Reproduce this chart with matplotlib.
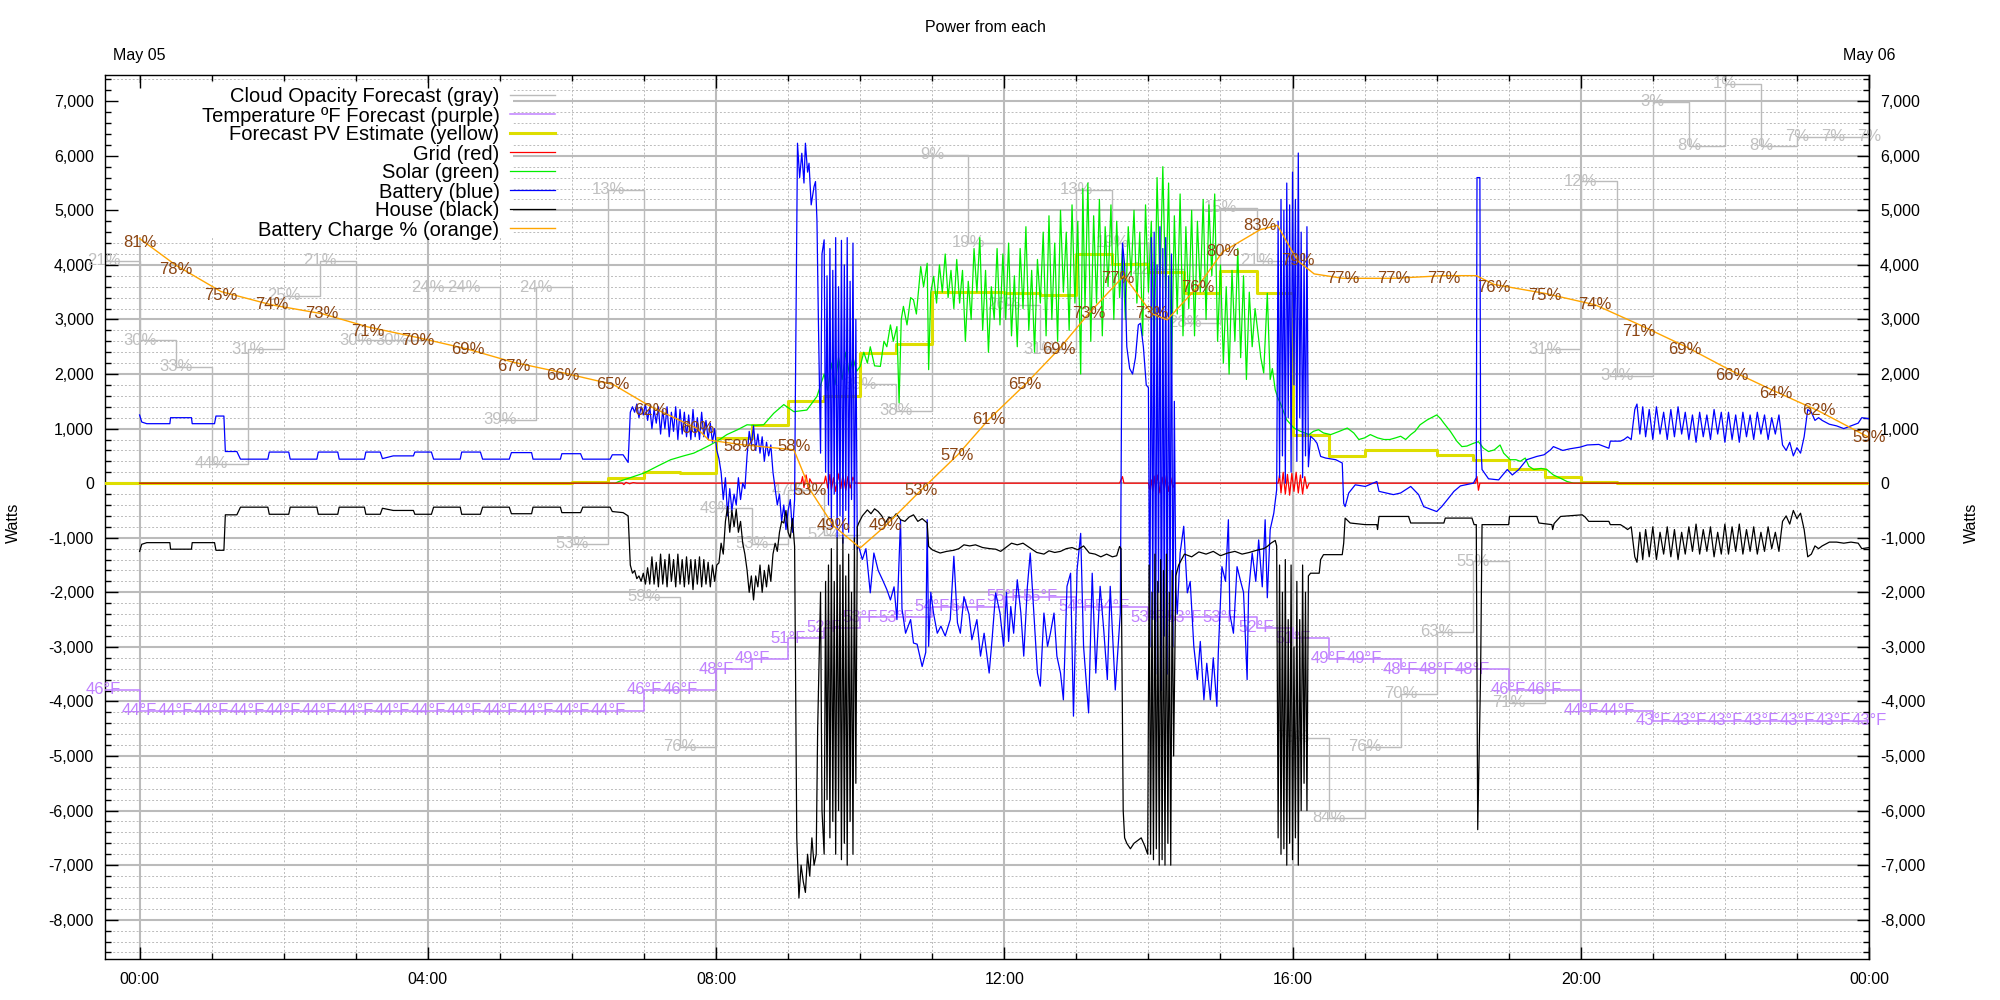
import matplotlib
matplotlib.use("Agg")
import matplotlib.pyplot as plt
from matplotlib.lines import Line2D
from matplotlib.patches import Rectangle
from matplotlib.ticker import FuncFormatter, MultipleLocator

# --- data (hours since May 05 00:00, watts / percent / degF) ---

half_hours = [-0.5 + 0.5 * i for i in range(50)]

cloud_pct = [21, 30, 33, 44, 31, 25, 21, 30, 30, 24,
             24, 39, 24, 53, 13, 59, 76, 49, 53, 47,
             52, 35, 38, 9, 19, 26, 31, 13, 19, 22,
             28, 15, 21, 75, 84, 76, 70, 63, 55, 71,
             31, 12, 34, 3, 8, 1, 8, 7, 7, 7]

temp_f = [46] + [44] * 14 + [46, 46, 48, 49, 51, 52, 53, 53, 54, 54,
                             55, 55, 54, 54, 53, 53, 53, 52, 51, 49,
                             49, 48, 48, 48, 46, 46, 44, 44] + [43] * 7

pv_forecast = [(-0.5, 0), (6.0, 20), (6.5, 100), (7.0, 196), (7.5, 180), (8.0, 830),
               (8.5, 1070), (9.0, 1507), (9.5, 1600), (10.0, 2385), (10.5, 2550),
               (11.0, 3512), (11.5, 3512), (12.0, 3490), (12.5, 3440), (13.0, 4200),
               (13.5, 4013), (14.0, 3867), (14.5, 3494), (15.0, 3890), (15.5, 3494),
               (16.0, 888), (16.5, 502), (17.0, 600), (17.5, 600), (18.0, 520),
               (18.5, 430), (19.0, 264), (19.5, 105), (20.0, 21), (20.5, 0), (24.0, 0)]

grid = [(0.0, 0), (6.7, 0), (6.72, -25), (6.75, 15), (6.8, -10), (6.85, 10), (6.9, 0),
        (9.18, 0), (9.2, 120), (9.22, -80), (9.25, 150), (9.28, -100), (9.3, 80), (9.33, 0),
        (9.5, 0), (9.52, 130), (9.55, -90), (9.58, 160), (9.6, -120), (9.63, 100),
        (9.66, -150), (9.7, 170), (9.73, -100), (9.76, 140), (9.8, -130), (9.83, 120),
        (9.86, -90), (9.9, 110), (9.93, 0), (13.6, 0), (13.64, 120), (13.66, 0),
        (14.0, 0), (14.02, -120), (14.04, 60), (14.06, -150), (14.08, 130), (14.1, -100),
        (14.13, 150), (14.16, -180), (14.19, 110), (14.22, -120), (14.25, 140),
        (14.28, -150), (14.31, 100), (14.34, -80), (14.37, 0), (15.8, 0), (15.82, 150),
        (15.84, -180), (15.87, 200), (15.9, -200), (15.93, 160), (15.96, -220),
        (15.99, 180), (16.02, -150), (16.05, 200), (16.08, -180), (16.11, 150),
        (16.14, -200), (16.17, 120), (16.2, -100), (16.23, 0), (18.54, 0), (18.56, 120),
        (18.58, -130), (18.6, 0), (24.0, 0)]

solar = [(0.0, 0), (6.6, 0), (6.65, 30), (7.0, 185), (7.2, 320), (7.37, 430), (7.55, 500),
         (7.69, 550), (7.8, 620), (7.92, 700), (8.05, 800), (8.15, 890), (8.3, 980),
         (8.43, 1070), (8.55, 1060), (8.66, 1070), (8.8, 1280), (8.94, 1440), (9.08, 1310),
         (9.26, 1340), (9.4, 1590), (9.5, 2000), (9.55, 1700), (9.6, 2200), (9.65, 1800),
         (9.7, 2300), (9.75, 1900), (9.8, 2400), (9.85, 2000), (9.9, 2300), (9.95, 2050),
         (10.0, 2140), (10.05, 2400), (10.1, 2200), (10.14, 2500), (10.2, 2150),
         (10.28, 2140), (10.33, 2600), (10.37, 2500), (10.42, 2900), (10.46, 2600),
         (10.51, 2870), (10.54, 1470), (10.57, 3000), (10.6, 3240), (10.65, 2900),
         (10.7, 3400), (10.74, 3360), (10.78, 3100), (10.84, 3970), (10.88, 3600),
         (10.93, 4030), (10.95, 2080), (10.98, 3500), (11.02, 3790), (11.06, 3300),
         (11.1, 4000), (11.14, 3500), (11.18, 4200), (11.22, 3400), (11.26, 3900),
         (11.3, 3200), (11.34, 4100), (11.38, 3300), (11.42, 3900), (11.46, 2600),
         (11.5, 3700), (11.54, 3000), (11.58, 4300), (11.62, 3500), (11.66, 4500),
         (11.7, 2800), (11.74, 3900), (11.78, 2400), (11.82, 3600), (11.86, 3000),
         (11.9, 4300), (11.94, 2900), (11.98, 4200), (12.02, 3000), (12.06, 4400),
         (12.1, 2700), (12.14, 3800), (12.18, 2500), (12.22, 4300), (12.26, 3200),
         (12.3, 4700), (12.34, 2800), (12.38, 3900), (12.42, 2400), (12.46, 4100),
         (12.5, 3300), (12.54, 4600), (12.58, 2700), (12.62, 4900), (12.66, 3000),
         (12.7, 4400), (12.74, 2600), (12.78, 5000), (12.82, 3500), (12.86, 4600),
         (12.9, 2800), (12.94, 5100), (12.98, 3300), (13.02, 4800), (13.06, 2000),
         (13.09, 5400), (13.12, 3200), (13.16, 5500), (13.2, 2600), (13.24, 4900),
         (13.28, 3300), (13.32, 5200), (13.36, 2700), (13.4, 4700), (13.44, 3600),
         (13.48, 5100), (13.52, 3000), (13.56, 4800), (13.6, 3400), (13.64, 4300),
         (13.68, 3000), (13.72, 4700), (13.76, 3800), (13.8, 5000), (13.84, 3300),
         (13.88, 4600), (13.92, 2700), (13.96, 5100), (14.0, 3500), (14.04, 4800),
         (14.08, 2400), (14.12, 5600), (14.16, 3600), (14.2, 5800), (14.24, 3400),
         (14.28, 5500), (14.32, 2000), (14.36, 4900), (14.4, 3100), (14.44, 5300),
         (14.48, 2700), (14.52, 4700), (14.56, 3200), (14.6, 5000), (14.64, 2700),
         (14.68, 4800), (14.72, 3500), (14.76, 5200), (14.8, 3000), (14.84, 5100),
         (14.88, 3800), (14.92, 5300), (14.96, 2600), (15.0, 4000), (15.04, 2200),
         (15.08, 3600), (15.12, 2000), (15.16, 3900), (15.2, 2600), (15.24, 4300),
         (15.28, 2300), (15.32, 3800), (15.36, 1900), (15.4, 3500), (15.44, 2500),
         (15.48, 3200), (15.51, 2870), (15.56, 2300), (15.6, 2020), (15.65, 3480),
         (15.69, 1900), (15.72, 2100), (15.76, 1710), (15.8, 1550), (15.83, 1470),
         (15.92, 1160), (16.02, 1010), (16.11, 950), (16.23, 890), (16.29, 950),
         (16.36, 980), (16.43, 920), (16.53, 890), (16.65, 950), (16.76, 1010),
         (16.85, 920), (16.92, 800), (17.0, 830), (17.08, 890), (17.18, 830),
         (17.27, 800), (17.35, 800), (17.43, 830), (17.5, 860), (17.57, 800),
         (17.64, 890), (17.7, 950), (17.77, 1070), (17.87, 1160), (18.0, 1250),
         (18.05, 1190), (18.1, 1100), (18.19, 950), (18.28, 770), (18.35, 670),
         (18.42, 680), (18.51, 730), (18.58, 760), (18.65, 640), (18.72, 580),
         (18.8, 610), (18.88, 700), (18.93, 550), (19.02, 430), (19.1, 430),
         (19.16, 400), (19.23, 460), (19.28, 310), (19.35, 250), (19.45, 270),
         (19.53, 250), (19.62, 150), (19.72, 90), (19.81, 30), (19.9, 0), (24.0, 0)]

battery = [(0.0, 1250), (0.03, 1120), (0.1, 1090), (0.42, 1090), (0.43, 1200), (0.72, 1200),
           (0.73, 1090), (1.04, 1090), (1.06, 1230), (1.17, 1230), (1.19, 580), (1.35, 580),
           (1.4, 440), (1.78, 440), (1.8, 570), (2.07, 570), (2.09, 440), (2.46, 440),
           (2.48, 570), (2.75, 570), (2.77, 440), (3.12, 440), (3.14, 570), (3.34, 570),
           (3.37, 450), (3.52, 500), (3.8, 500), (3.82, 570), (4.05, 570), (4.08, 440),
           (4.45, 440), (4.47, 570), (4.73, 570), (4.76, 440), (5.13, 440), (5.16, 560),
           (5.44, 560), (5.46, 440), (5.84, 440), (5.86, 540), (6.12, 540), (6.15, 440),
           (6.53, 440), (6.56, 520), (6.71, 520), (6.78, 380),
           (6.81, 1300), (6.84, 1400), (6.87, 1300), (6.9, 1450), (6.93, 1200), (6.96, 1400),
           (6.99, 1250), (7.02, 1450), (7.05, 1150), (7.08, 1400), (7.11, 1000), (7.14, 1350),
           (7.17, 1100), (7.2, 1400), (7.23, 900), (7.26, 1350), (7.29, 1000), (7.32, 1400),
           (7.35, 850), (7.38, 1300), (7.41, 950), (7.44, 1400), (7.47, 800), (7.5, 1350),
           (7.53, 900), (7.56, 1300), (7.59, 850), (7.62, 1250), (7.65, 800), (7.68, 1350),
           (7.71, 850), (7.74, 1200), (7.77, 800), (7.8, 1300), (7.83, 850), (7.86, 1150),
           (7.89, 800), (7.92, 1100), (7.95, 750), (7.98, 1000), (8.01, 600),
           (8.04, 450), (8.07, 200), (8.1, -300), (8.13, 100), (8.16, -600), (8.19, -100),
           (8.22, -500), (8.25, -200), (8.28, -400), (8.31, 100), (8.34, -300), (8.37, 0),
           (8.4, -100), (8.43, 500), (8.46, 950), (8.49, 700), (8.52, 1050), (8.55, 600),
           (8.58, 900), (8.61, 550), (8.64, 850), (8.67, 400), (8.7, 750), (8.73, 500),
           (8.76, 700), (8.79, 200), (8.82, -100), (8.85, -400), (8.88, -200), (8.91, -700),
           (8.94, -400), (8.97, -850), (9.0, -500), (9.03, -300), (9.06, -900), (9.09, -300),
           (9.1, 1500), (9.13, 6230), (9.16, 5600), (9.19, 6046), (9.22, 5500), (9.24, 6230),
           (9.27, 5700), (9.29, 5863), (9.32, 5100), (9.36, 5436), (9.38, 5527), (9.4, 4825),
           (9.42, 2990), (9.45, 550), (9.47, 4200), (9.5, 4460), (9.52, 200), (9.54, 3800),
           (9.56, -400), (9.58, 4300), (9.6, -800), (9.62, 3900), (9.64, -200), (9.66, 4500),
           (9.68, -1000), (9.7, 3600), (9.72, -600), (9.74, 4450), (9.76, -1100), (9.78, 4000),
           (9.8, -500), (9.82, 4500), (9.84, -900), (9.86, 3700), (9.88, -300), (9.9, 4400),
           (9.92, -1200), (9.94, 3000), (9.96, -1200),
           (9.98, -1160), (10.03, -1400), (10.08, -1200), (10.14, -2010), (10.19, -1280),
           (10.25, -1600), (10.31, -1770), (10.37, -1950), (10.42, -2140), (10.47, -1900),
           (10.51, -2500), (10.56, -670), (10.58, -2300), (10.63, -2750), (10.7, -2500),
           (10.74, -2930), (10.79, -2950), (10.86, -3360), (10.91, -3100), (10.93, -670),
           (10.95, -2990), (10.98, -2000), (11.02, -2400), (11.07, -2750), (11.12, -2620),
           (11.18, -2800), (11.25, -2500), (11.3, -1340), (11.35, -2560), (11.39, -2750),
           (11.44, -2080), (11.51, -2400), (11.55, -2870), (11.62, -2500), (11.67, -3170),
           (11.72, -2750), (11.79, -3480), (11.83, -2870), (11.88, -2010), (11.94, -2380),
           (11.99, -2990), (12.03, -2000), (12.06, -2900), (12.09, -2260), (12.13, -2750),
           (12.18, -1770), (12.23, -2380), (12.27, -3170), (12.32, -1900), (12.36, -1280),
           (12.41, -2380), (12.46, -3480), (12.5, -3720), (12.55, -2380), (12.6, -2990),
           (12.64, -2750), (12.69, -2380), (12.73, -3170), (12.78, -3480), (12.82, -3970),
           (12.87, -1890), (12.92, -1650), (12.96, -4270), (13.01, -1590), (13.06, -920),
           (13.1, -2990), (13.17, -4210), (13.22, -1650), (13.27, -3480), (13.33, -1890),
           (13.38, -2690), (13.43, -3600), (13.47, -1890), (13.54, -3790), (13.61, -2380),
           (13.64, 4400), (13.67, 4000), (13.7, 2500), (13.74, 2100), (13.78, 2000),
           (13.82, 2300), (13.86, 2900), (13.89, 2930), (13.93, 2500), (13.97, 1800),
           (14.0, 1750), (14.02, -3000), (14.04, 4500), (14.06, -2500), (14.08, 4600),
           (14.1, -3500), (14.12, 4000), (14.14, -2000), (14.16, 4700), (14.18, -3800),
           (14.2, 4300), (14.22, -2800), (14.24, 4500), (14.26, -3500), (14.28, 3800),
           (14.3, -2500), (14.32, 4200), (14.34, -3000), (14.36, 1500), (14.38, -1900),
           (14.4, -2400), (14.44, -1280), (14.49, -790), (14.54, -2010), (14.58, -1800),
           (14.63, -2990), (14.68, -3600), (14.72, -2900), (14.77, -3970), (14.81, -3300),
           (14.86, -3970), (14.9, -3200), (14.95, -4090), (14.97, -3100), (15.02, -1530),
           (15.07, -1800), (15.11, -670), (15.13, -2400), (15.18, -2750), (15.23, -1530),
           (15.28, -1800), (15.32, -2000), (15.37, -3600), (15.39, -2000), (15.44, -1280),
           (15.49, -1800), (15.53, -1040), (15.58, -1900), (15.62, -670), (15.65, -2100),
           (15.69, -850), (15.74, -550), (15.78, -120),
           (15.8, 4800), (15.82, 100), (15.84, 5200), (15.86, 500), (15.88, 5000), (15.9, 0),
           (15.92, 5500), (15.94, 1200), (15.96, 5100), (15.98, 200), (16.0, 5700),
           (16.02, 1800), (16.04, 5200), (16.06, 400), (16.08, 6050), (16.1, 1200),
           (16.12, 4600), (16.14, 100), (16.16, 4200), (16.18, 500), (16.2, 4700),
           (16.22, 300), (16.25, 860), (16.3, 800), (16.34, 730), (16.39, 490), (16.46, 460),
           (16.6, 430), (16.69, 370), (16.71, -370), (16.73, -430), (16.78, -180),
           (16.87, -30), (17.01, -60), (17.17, 30), (17.2, -150), (17.4, -210), (17.5, -180),
           (17.64, -60), (17.75, -210), (17.82, -430), (18.0, -520), (18.07, -430),
           (18.15, -300), (18.24, -150), (18.33, -50), (18.51, 0), (18.55, 100),
           (18.56, 5600), (18.6, 5600), (18.61, 800), (18.63, 250), (18.72, 80), (18.86, 60),
           (18.98, 250), (19.05, 150), (19.14, 250), (19.25, 430), (19.39, 490), (19.49, 520),
           (19.58, 610), (19.62, 670), (19.75, 600), (19.85, 630), (19.99, 660), (20.09, 700),
           (20.25, 710), (20.39, 640), (20.41, 770), (20.55, 770),
           (20.6, 800), (20.65, 850), (20.7, 800), (20.75, 1350), (20.78, 1450), (20.82, 900),
           (20.86, 1400), (20.9, 850), (20.95, 1350), (21.0, 800), (21.05, 1400), (21.1, 900),
           (21.15, 1300), (21.2, 800), (21.25, 1350), (21.3, 850), (21.35, 1400), (21.4, 900),
           (21.45, 1300), (21.5, 800), (21.55, 1250), (21.6, 750), (21.65, 1300), (21.7, 850),
           (21.75, 1250), (21.8, 800), (21.85, 1350), (21.9, 900), (21.95, 1300), (22.0, 750),
           (22.05, 1300), (22.1, 800), (22.15, 1250), (22.2, 750), (22.25, 1300), (22.3, 850),
           (22.35, 1250), (22.4, 800), (22.45, 1300), (22.5, 900), (22.55, 1250), (22.6, 800),
           (22.65, 1200), (22.7, 900), (22.75, 1250), (22.8, 700), (22.85, 600), (22.9, 750),
           (22.95, 500), (23.0, 650), (23.05, 550), (23.1, 850), (23.15, 1350), (23.2, 1300),
           (23.25, 1150), (23.3, 1200), (23.35, 1150), (23.45, 1080), (23.55, 1050),
           (23.65, 1000), (23.75, 1050), (23.85, 1100), (23.9, 1200), (24.0, 1180)]

house = [(0.0, -1250), (0.03, -1120), (0.1, -1090), (0.42, -1090), (0.43, -1210), (0.72, -1210),
         (0.73, -1090), (1.04, -1090), (1.06, -1230), (1.17, -1230), (1.19, -580), (1.35, -580),
         (1.4, -440), (1.78, -440), (1.8, -570), (2.07, -570), (2.09, -440), (2.46, -440),
         (2.48, -570), (2.75, -570), (2.77, -440), (3.12, -440), (3.14, -570), (3.34, -570),
         (3.37, -460), (3.52, -500), (3.8, -500), (3.82, -570), (4.05, -570), (4.08, -440),
         (4.45, -440), (4.47, -570), (4.73, -570), (4.76, -440), (5.13, -440), (5.16, -560),
         (5.44, -560), (5.46, -440), (5.84, -440), (5.86, -540), (6.12, -540), (6.15, -440),
         (6.53, -440), (6.56, -520), (6.71, -540), (6.78, -600),
         (6.81, -1500), (6.84, -1650), (6.87, -1600), (6.9, -1750), (6.93, -1700), (6.96, -1800),
         (6.99, -1650), (7.02, -1850), (7.05, -1550), (7.08, -1850), (7.11, -1350), (7.14, -1850),
         (7.17, -1450), (7.2, -1900), (7.23, -1300), (7.26, -1850), (7.29, -1400), (7.32, -1900),
         (7.35, -1300), (7.38, -1800), (7.41, -1400), (7.44, -1900), (7.47, -1300), (7.5, -1850),
         (7.53, -1400), (7.56, -1900), (7.59, -1350), (7.62, -1850), (7.65, -1400), (7.68, -1950),
         (7.71, -1400), (7.74, -1850), (7.77, -1350), (7.8, -1900), (7.83, -1400), (7.86, -1850),
         (7.89, -1450), (7.92, -1900), (7.95, -1500), (7.98, -1800), (8.01, -1500),
         (8.04, -1460), (8.07, -1100), (8.1, -1300), (8.13, -700), (8.16, -430), (8.19, -900),
         (8.22, -500), (8.25, -800), (8.28, -480), (8.31, -900), (8.34, -700), (8.37, -1100),
         (8.4, -1300), (8.43, -1590), (8.46, -2000), (8.49, -1700), (8.52, -2140), (8.55, -1700),
         (8.58, -1900), (8.61, -1500), (8.64, -2000), (8.67, -1600), (8.7, -1900), (8.73, -1500),
         (8.76, -1800), (8.79, -1300), (8.82, -1100), (8.85, -1250), (8.88, -900), (8.91, -700),
         (8.94, -730), (8.97, -500), (9.0, -900), (9.03, -1000), (9.06, -650), (9.09, -1160),
         (9.12, -6500), (9.15, -7600), (9.18, -7000), (9.21, -7300), (9.24, -7500), (9.27, -6800),
         (9.3, -7200), (9.33, -6500), (9.36, -7000), (9.39, -6800), (9.41, -4500), (9.45, -2000),
         (9.47, -6000), (9.5, -6800), (9.52, -1800), (9.54, -5800), (9.56, -1500), (9.58, -6500),
         (9.6, -1200), (9.62, -6200), (9.64, -1800), (9.66, -6800), (9.68, -1000), (9.7, -6000),
         (9.72, -1500), (9.74, -6900), (9.76, -1000), (9.78, -6600), (9.8, -1700), (9.82, -7000),
         (9.84, -1300), (9.86, -6200), (9.88, -2000), (9.9, -6800), (9.92, -1000), (9.94, -5500),
         (9.96, -800),
         (9.98, -730), (10.03, -600), (10.1, -490), (10.15, -560), (10.2, -470), (10.25, -520),
         (10.3, -600), (10.35, -730), (10.4, -620), (10.45, -650), (10.5, -560), (10.56, -670),
         (10.62, -700), (10.68, -620), (10.74, -580), (10.8, -700), (10.86, -650), (10.93, -730),
         (10.95, -1160), (11.0, -1220), (11.05, -1250), (11.11, -1280), (11.2, -1250),
         (11.3, -1230), (11.37, -1200), (11.44, -1130), (11.52, -1150), (11.6, -1130),
         (11.7, -1180), (11.8, -1200), (11.88, -1210), (11.95, -1250), (12.02, -1180),
         (12.1, -1100), (12.18, -1130), (12.26, -1100), (12.35, -1180), (12.45, -1270),
         (12.55, -1300), (12.62, -1240), (12.7, -1270), (12.78, -1250), (12.86, -1200),
         (12.94, -1180), (13.02, -1220), (13.1, -1150), (13.18, -1280), (13.26, -1300),
         (13.34, -1350), (13.42, -1300), (13.5, -1350), (13.56, -1330), (13.6, -1160),
         (13.62, -1200),
         (13.65, -6000), (13.67, -6500), (13.7, -6600), (13.75, -6700), (13.8, -6600),
         (13.85, -6550), (13.9, -6500), (13.95, -6650), (13.99, -6800), (14.01, -1500),
         (14.03, -6800), (14.05, -2000), (14.07, -6900), (14.09, -1300), (14.11, -6700),
         (14.13, -1800), (14.15, -7000), (14.17, -1400), (14.19, -6900), (14.21, -1600),
         (14.23, -7000), (14.25, -1300), (14.27, -6600), (14.29, -2000), (14.31, -7000),
         (14.33, -1600), (14.35, -5000), (14.38, -1700), (14.42, -1500), (14.46, -1400),
         (14.5, -1300), (14.6, -1350), (14.7, -1260), (14.8, -1300), (14.9, -1250),
         (15.0, -1330), (15.1, -1280), (15.2, -1250), (15.3, -1300), (15.4, -1270),
         (15.5, -1230), (15.6, -1200), (15.65, -1160), (15.7, -1100), (15.76, -1050),
         (15.78, -1150),
         (15.8, -6500), (15.82, -1500), (15.84, -6800), (15.86, -2000), (15.88, -6700),
         (15.9, -1400), (15.92, -7000), (15.94, -2500), (15.96, -6600), (15.98, -1500),
         (16.0, -6900), (16.02, -3000), (16.04, -6500), (16.06, -1800), (16.08, -7000),
         (16.1, -2500), (16.12, -6000), (16.14, -1500), (16.16, -5500), (16.18, -2000),
         (16.2, -6000), (16.22, -1700), (16.25, -1650), (16.37, -1650), (16.39, -1400),
         (16.43, -1310), (16.69, -1310), (16.71, -1100), (16.73, -640), (16.8, -730),
         (17.01, -760), (17.17, -760), (17.18, -850), (17.2, -610), (17.61, -610),
         (17.64, -730), (18.1, -730), (18.12, -640), (18.49, -640), (18.52, -760),
         (18.55, -760), (18.57, -6350), (18.61, -3500), (18.63, -760), (19.0, -760),
         (19.01, -610), (19.39, -610), (19.42, -730), (19.6, -760), (19.61, -850),
         (19.63, -740), (19.72, -610), (20.02, -580), (20.06, -620), (20.11, -700),
         (20.39, -700), (20.41, -760), (20.55, -760),
         (20.6, -800), (20.65, -850), (20.7, -800), (20.75, -1350), (20.78, -1450),
         (20.82, -900), (20.86, -1400), (20.9, -850), (20.95, -1350), (21.0, -800),
         (21.05, -1400), (21.1, -900), (21.15, -1300), (21.2, -800), (21.25, -1350),
         (21.3, -850), (21.35, -1400), (21.4, -900), (21.45, -1300), (21.5, -800),
         (21.55, -1250), (21.6, -750), (21.65, -1300), (21.7, -850), (21.75, -1250),
         (21.8, -800), (21.85, -1350), (21.9, -900), (21.95, -1300), (22.0, -750),
         (22.05, -1300), (22.1, -800), (22.15, -1250), (22.2, -750), (22.25, -1300),
         (22.3, -850), (22.35, -1250), (22.4, -800), (22.45, -1300), (22.5, -900),
         (22.55, -1250), (22.6, -800), (22.65, -1200), (22.7, -900), (22.75, -1250),
         (22.8, -700), (22.85, -600), (22.9, -750), (22.95, -500), (23.0, -650),
         (23.05, -550), (23.1, -850), (23.15, -1350), (23.2, -1300), (23.25, -1150),
         (23.3, -1200), (23.35, -1150), (23.45, -1080), (23.55, -1080), (23.65, -1100),
         (23.75, -1080), (23.85, -1100), (23.9, -1200), (24.0, -1180)]

charge_line = [(0.0, 81.5), (0.5, 78.5), (1.13, 75.5), (1.83, 74), (2.53, 73), (3.17, 71.5),
               (3.86, 70.3), (4.55, 69), (5.19, 67.5), (5.88, 66.3), (6.57, 65), (7.09, 62.5),
               (7.74, 60), (7.9, 58.7), (8.34, 58.2), (9.08, 57.6), (9.31, 53), (9.63, 49),
               (10.0, 46.5), (10.35, 49), (10.84, 53), (11.35, 57), (11.78, 61), (12.29, 65),
               (12.76, 69), (13.17, 73), (13.66, 77.3), (14.05, 73), (14.26, 72.3),
               (14.68, 76), (15.03, 80), (15.55, 82.5), (15.79, 83), (16.07, 79), (16.3, 77.5),
               (16.7, 77), (17.4, 77), (18.1, 77.3), (18.55, 77.3), (18.8, 76.3), (19.5, 75.3),
               (20.2, 74), (20.8, 71.8), (21.45, 69.3), (22.1, 66.5), (22.7, 64.2), (23.3, 62),
               (24.0, 59)]

charge_labels = [(0.0, 81), (0.5, 78), (1.13, 75), (1.83, 74), (2.53, 73), (3.17, 71),
                 (3.86, 70), (4.55, 69), (5.19, 67), (5.88, 66), (6.57, 65), (7.09, 62),
                 (7.74, 60), (8.34, 58), (9.08, 58), (9.31, 53), (9.63, 49), (10.35, 49),
                 (10.84, 53), (11.35, 57), (11.78, 61), (12.29, 65), (12.76, 69), (13.17, 73),
                 (13.57, 77), (14.05, 73), (14.68, 76), (15.03, 80), (15.55, 83), (16.07, 79),
                 (16.7, 77), (17.4, 77), (18.1, 77), (18.8, 76), (19.5, 75), (20.2, 74),
                 (20.8, 71), (21.45, 69), (22.1, 66), (22.7, 64), (23.3, 62), (24.0, 59)]

# --- scales ---
Y_MIN, Y_MAX = -8720, 7480
SPAN = Y_MAX - Y_MIN


def cloud_to_w(p):
    return Y_MAX - p / 100 * SPAN


def charge_to_w(p):
    return Y_MIN + p / 100 * SPAN


def temp_to_w(t):
    return -4168 + 190 * (t - 44)


GRAY = "#bbbbbb"
GRAY_TXT = "#c0c0c0"
PURPLE = "#c080ff"
YELLOW = "#dede00"
ORANGE = "#ffa500"
BROWN = "#8b4513"
FS = 11.5
LABEL_FS = 12

plt.rcParams["font.family"] = ["Liberation Sans", "DejaVu Sans"]

fig = plt.figure(figsize=(20, 10), dpi=100)
ax = fig.add_axes([0.0525, 0.041, 0.882, 0.884])

# cloud opacity
cw = [cloud_to_w(p) for p in cloud_pct]
ax.plot(half_hours, cw, drawstyle="steps-post", color=GRAY, lw=1.0, zorder=2)
for t, p, w in zip(half_hours, cloud_pct, cw):
    ax.text(t, w, f"{p}%", color=GRAY_TXT, fontsize=LABEL_FS, ha="center", va="center", zorder=2)

# temperature
tw = [temp_to_w(t) for t in temp_f]
ax.plot(half_hours, tw, drawstyle="steps-post", color=PURPLE, lw=1.1, zorder=3)
for t, f, w in zip(half_hours, temp_f, tw):
    ax.text(t, w, f"{f}°F", color=PURPLE, fontsize=LABEL_FS, ha="center", va="center", zorder=3)

# forecast PV
x, y = zip(*pv_forecast)
ax.plot(x, y, drawstyle="steps-post", color=YELLOW, lw=2.2, zorder=4)

x, y = zip(*solar)
ax.plot(x, y, color="#00ee00", lw=0.9, zorder=5)
x, y = zip(*grid)
ax.plot(x, y, color="#ff0000", lw=0.9, zorder=5.5)
x, y = zip(*battery)
ax.plot(x, y, color="#0000ff", lw=0.9, zorder=6)
x, y = zip(*house)
ax.plot(x, y, color="black", lw=0.9, zorder=7)

x, y = zip(*charge_line)
ax.plot(x, [charge_to_w(p) for p in y], color=ORANGE, lw=1.0, zorder=8)
for t, p in charge_labels:
    ax.text(t, charge_to_w(p), f"{p}%", color=BROWN, fontsize=LABEL_FS, ha="center",
            va="center", zorder=9)

# axes
ax.set_xlim(-0.48, 24.0)
ax.set_ylim(Y_MIN, Y_MAX)
ax.xaxis.set_major_locator(MultipleLocator(4))
ax.xaxis.set_minor_locator(MultipleLocator(1))
ax.yaxis.set_major_locator(MultipleLocator(1000))
ax.yaxis.set_minor_locator(MultipleLocator(200))
ax.xaxis.set_major_formatter(FuncFormatter(lambda v, pos: f"{int(round(v)) % 24:02d}:00"))
ax.yaxis.set_major_formatter(FuncFormatter(lambda v, pos: f"{v:,.0f}"))
ax.tick_params(which="both", direction="in", top=True, right=True, labelright=True,
               labelsize=FS, width=1)
ax.tick_params(which="major", length=9)
ax.tick_params(which="minor", length=4)
ax.tick_params(axis="y", which="major", pad=8)
ax.tick_params(axis="x", which="major", pad=9)
for s in ax.spines.values():
    s.set_linewidth(1.0)

# grid lines drawn by hand so the key box can hide them but not the ticks
x_major = set(ax.xaxis.get_majorticklocs())
for v in ax.xaxis.get_minorticklocs():
    if v not in x_major:
        ax.axvline(v, color=GRAY, lw=0.7, ls=(0, (2, 2)), zorder=0.3)
for v in x_major:
    ax.axvline(v, color=GRAY, lw=1.5, zorder=0.4)
y_major = set(ax.yaxis.get_majorticklocs())
for v in ax.yaxis.get_minorticklocs():
    if v not in y_major:
        ax.axhline(v, color=GRAY, lw=0.7, ls=(0, (2, 2)), zorder=0.3)
for v in y_major:
    ax.axhline(v, color=GRAY, lw=1.5, zorder=0.4)

# opaque key area
ax.add_patch(Rectangle((0, 0.8167), 0.2313, 0.1743, transform=ax.transAxes,
                       facecolor="white", edgecolor="none", zorder=0.8))

xt = ax.get_xaxis_transform()
ax.text(0, 1.0215, "May 05", transform=xt, ha="center", va="center", fontsize=FS)
ax.text(24, 1.0215, "May 06", transform=xt, ha="center", va="center", fontsize=FS)

fig.text(0.4925, 0.973, "Power from each", ha="center", va="center", fontsize=FS)
fig.text(0.0065, 0.477, "Watts", rotation=90, ha="center", va="center", fontsize=FS)
fig.text(0.9855, 0.477, "Watts", rotation=90, ha="center", va="center", fontsize=FS)

handles = [Line2D([], [], color=GRAY, lw=1.0),
           Line2D([], [], color=PURPLE, lw=1.1),
           Line2D([], [], color=YELLOW, lw=2.2),
           Line2D([], [], color="#ff0000", lw=0.9),
           Line2D([], [], color="#00ee00", lw=0.9),
           Line2D([], [], color="#0000ff", lw=0.9),
           Line2D([], [], color="black", lw=0.9),
           Line2D([], [], color=ORANGE, lw=1.0)]
labels = ["Cloud Opacity Forecast (gray)", "Temperature ºF Forecast (purple)",
          "Forecast PV Estimate (yellow)", "Grid (red)", "Solar (green)",
          "Battery (blue)", "House (black)", "Battery Charge % (orange)"]
leg = fig.legend(handles, labels, loc="upper right", bbox_to_anchor=(0.2775, 0.9125),
                 frameon=False, markerfirst=False, handlelength=2.25, handletextpad=0.5,
                 labelspacing=0.0, borderpad=0, borderaxespad=0, fontsize=14.5)
leg.set_zorder(10)

fig.savefig("out.png", dpi=100)
